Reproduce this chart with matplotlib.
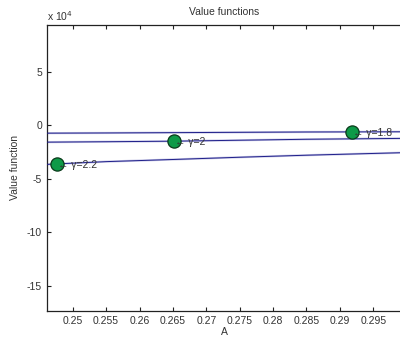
import matplotlib
matplotlib.use('Agg')
import matplotlib.pyplot as plt

# Value function curves (in units of 1e4)
a_grid = [0.246, 0.255, 0.265, 0.275, 0.285, 0.299]
v_gamma18 = [-0.72, -0.70, -0.67, -0.64, -0.61, -0.59]
v_gamma20 = [-1.56, -1.52, -1.47, -1.38, -1.29, -1.21]
v_gamma22 = [-3.64, -3.38, -3.18, -2.97, -2.78, -2.55]

# Marked points on each curve
marker_a = [0.2918, 0.2652, 0.2477]
marker_v = [-0.59, -1.47, -3.64]
marker_labels = ['\u2190 \u03b3=1.8', '\u2190 \u03b3=2', '\u2190 \u03b3=2.2']

yticks = [-15, -10, -5, 0, 5]
xticks = [0.25, 0.255, 0.26, 0.265, 0.27, 0.275, 0.28, 0.285, 0.29, 0.295]

plt.rcParams['font.family'] = ['Liberation Sans', 'DejaVu Sans']
plt.rcParams['axes.unicode_minus'] = False
text_col = '#333333'
fs = 7.5

fig = plt.figure(figsize=(4.0, 3.43), dpi=100)
ax = fig.add_axes([47 / 400, 1 - 311 / 343, 355 / 400, 286 / 343])

line_col = '#1f1f8a'
for v in (v_gamma18, v_gamma20, v_gamma22):
    ax.plot(a_grid, v, color='#a8a8d8', linewidth=1.6, alpha=0.6, zorder=2)
    ax.plot(a_grid, v, color=line_col, linewidth=0.7, zorder=3)

ax.plot(marker_a, marker_v, 'o', markersize=9.5, markerfacecolor='#0e9a48',
        markeredgecolor='#0a3a1a', markeredgewidth=0.9, linestyle='none', zorder=4)
for a, v, lab in zip(marker_a, marker_v, marker_labels):
    ax.text(a + 0.00015, v - 0.1, lab, fontsize=fs, color=text_col,
            va='center', ha='left', zorder=5)

ax.set_xlim(0.24615, 0.2993)
ax.set_ylim(-17.34, 9.39)
ax.set_xticks(xticks)
ax.set_xticklabels([f'{t:g}' for t in xticks])
ax.set_yticks(yticks)
ax.tick_params(direction='in', length=3, width=0.8, labelsize=fs,
               colors='#222222', labelcolor=text_col, top=True, right=False)
for side in ('left', 'bottom', 'top'):
    ax.spines[side].set_linewidth(0.9)
    ax.spines[side].set_color('#222222')
ax.spines['right'].set_visible(False)

ax.set_title('Value functions', fontsize=fs, color=text_col, pad=7)
ax.set_xlabel('A', fontsize=fs, color=text_col, labelpad=1)
ax.set_ylabel('Value function', fontsize=fs, color=text_col, labelpad=5)
fig.text(47 / 400, 1 - 16 / 343, r'x 10$^{4}$', fontsize=fs, color=text_col,
         ha='left', va='center')

fig.savefig('out.png', dpi=100)
